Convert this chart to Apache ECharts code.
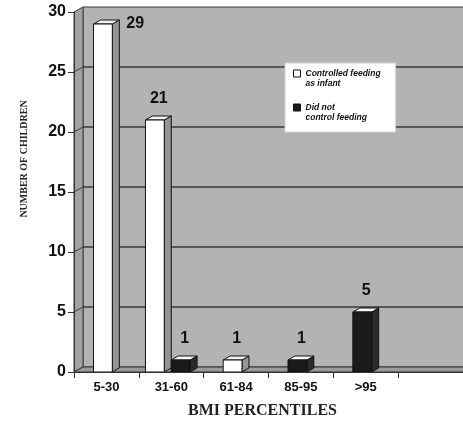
<!DOCTYPE html>
<html>
<head>
<meta charset="utf-8">
<script src="https://cdn.jsdelivr.net/npm/echarts@6/dist/echarts.min.js"></script>
<style>
  html, body { margin: 0; padding: 0; background: #ffffff; }
  #chart { width: 463px; height: 424px; }
</style>
</head>
<body>
<div id="chart"></div>
<script>
// BMI percentile groups (last slot is an empty spacer category)
const categories = ['5-30', '31-60', '61-84', '85-95', '>95', ''];
const controlledFeeding = [29, 21, 1, 0, 0, 0];
const notControlled = [0, 1, 0, 1, 5, 0];
const yTicks = [0, 5, 10, 15, 20, 25, 30];
const seriesNames = ['Controlled feeding as infant', 'Did not control feeding'];
const legendLabels = ['Controlled feeding\nas infant', 'Did not\ncontrol feeding'];

// pseudo-3D depth of the walls and of the columns
const WALL_DX = 9, WALL_DY = 5;
const BAR_DX = 7, BAR_DY = 4;
const BAR_FRACTION = 0.29;

const FRONT = ['#ffffff', '#1a1a1a'];
const SIDE = ['#959595', '#2b2b2b'];
const TOP = ['#f2f2f2', '#fafafa'];
const EDGE = '#111111';

const valueSets = [controlledFeeding, notControlled];

function wallRenderer(params, api) {
  const cs = params.coordSys;
  const L = cs.x, T = cs.y, R = cs.x + cs.width, B = cs.y + cs.height;
  const kids = [];
  kids.push({
    type: 'rect',
    shape: { x: L + WALL_DX, y: T - WALL_DY, width: cs.width, height: cs.height },
    style: { fill: '#b3b3b3', stroke: '#3a3a3a', lineWidth: 1 }
  });
  kids.push({
    type: 'polygon',
    shape: { points: [[L, T], [L + WALL_DX, T - WALL_DY], [L + WALL_DX, B - WALL_DY], [L, B]] },
    style: { fill: '#a2a2a2', stroke: '#3a3a3a', lineWidth: 1 }
  });
  kids.push({
    type: 'polygon',
    shape: { points: [[L, B], [L + WALL_DX, B - WALL_DY], [R + WALL_DX, B - WALL_DY], [R, B]] },
    style: { fill: '#9a9a9a', stroke: '#333333', lineWidth: 1 }
  });
  yTicks.forEach(function (t, k) {
    if (k === 0 || k === yTicks.length - 1) return;
    const y = api.coord([0, t])[1];
    kids.push({
      type: 'line',
      shape: { x1: L + WALL_DX, y1: y - WALL_DY, x2: R + WALL_DX, y2: y - WALL_DY },
      style: { stroke: '#3a3a3a', lineWidth: 1.5 }
    });
    kids.push({
      type: 'line',
      shape: { x1: L, y1: y, x2: L + WALL_DX, y2: y - WALL_DY },
      style: { stroke: '#3a3a3a', lineWidth: 1 }
    });
  });
  return { type: 'group', children: kids };
}

function barRenderer(s) {
  return function (params, api) {
    const i = api.value(0);
    const v = api.value(1);
    if (!v) return null;
    const present = valueSets.map(function (arr) { return arr[i] > 0; });
    const n = present.filter(Boolean).length;
    const slot = (s === 1 && present[0]) ? 1 : 0;
    const band = api.size([1, 0])[0];
    const w = band * BAR_FRACTION;
    const total = n * (w + BAR_DX);
    const base = api.coord([i, 0]);
    const top = api.coord([i, v])[1];
    const bottom = base[1];
    const x0 = base[0] - total / 2 + slot * (w + BAR_DX);
    const cs = params.coordSys;

    const kids = [
      {
        type: 'polygon',
        shape: { points: [[x0 + w, top], [x0 + w + BAR_DX, top - BAR_DY], [x0 + w + BAR_DX, bottom - BAR_DY], [x0 + w, bottom]] },
        style: { fill: SIDE[s], stroke: EDGE, lineWidth: 1 }
      },
      {
        type: 'polygon',
        shape: { points: [[x0, top], [x0 + w, top], [x0 + w + BAR_DX, top - BAR_DY], [x0 + BAR_DX, top - BAR_DY]] },
        style: { fill: TOP[s], stroke: EDGE, lineWidth: 1 }
      },
      {
        type: 'rect',
        shape: { x: x0, y: top, width: w, height: bottom - top },
        style: { fill: FRONT[s], stroke: EDGE, lineWidth: 1 }
      }
    ];

    // value label: above the column, or beside it when there is no room above
    const labelFont = 'bold 16px "Liberation Sans", Arial, sans-serif';
    const aboveY = top - 13;
    if (aboveY - 14 < cs.y) {
      kids.push({
        type: 'text',
        style: { text: String(v), x: x0 + w + BAR_DX + 7, y: top, align: 'left', verticalAlign: 'middle', font: labelFont, fill: '#111' }
      });
    } else {
      kids.push({
        type: 'text',
        style: { text: String(v), x: x0 + w / 2 + 4, y: aboveY, align: 'center', verticalAlign: 'bottom', font: labelFont, fill: '#111' }
      });
    }
    return { type: 'group', children: kids };
  };
}

function toPairs(arr) {
  return arr.map(function (v, i) { return [i, v]; });
}

const legendIcon = 'path://M0,0M0,20M0,1.5L7,1.5L7,8.5L0,8.5Z';

const chart = echarts.init(document.getElementById('chart'), null, { renderer: 'canvas' });
chart.setOption({
  animation: false,
  backgroundColor: '#ffffff',
  grid: { left: 74, top: 12, width: 392, height: 360 },
  legend: {
    orient: 'vertical',
    left: 285,
    top: 63,
    padding: [5, 15, 9, 8],
    itemGap: 13,
    itemWidth: 7,
    itemHeight: 20,
    backgroundColor: '#ffffff',
    borderColor: '#d4d4d4',
    borderWidth: 1,
    selectedMode: false,
    data: [
      { name: seriesNames[0], icon: legendIcon, itemStyle: { color: '#ffffff', borderColor: '#111', borderWidth: 1 } },
      { name: seriesNames[1], icon: legendIcon, itemStyle: { color: '#1a1a1a', borderColor: '#111', borderWidth: 1 } }
    ],
    formatter: function (name) { return legendLabels[seriesNames.indexOf(name)]; },
    textStyle: {
      fontFamily: '"Liberation Sans", Arial, sans-serif',
      fontSize: 8.5,
      fontStyle: 'italic',
      fontWeight: 'bold',
      color: '#111',
      lineHeight: 10
    }
  },
  xAxis: {
    type: 'category',
    data: categories,
    z: 3,
    axisLine: { show: true, lineStyle: { color: '#333', width: 1 } },
    axisTick: { show: true, length: 6, lineStyle: { color: '#333' } },
    axisLabel: {
      margin: 9,
      color: '#111',
      fontFamily: '"Liberation Sans", Arial, sans-serif',
      fontWeight: 'bold',
      fontSize: 13
    },
    splitLine: { show: false },
    name: 'BMI PERCENTILES',
    nameLocation: 'middle',
    nameGap: 31,
    nameTextStyle: {
      fontFamily: '"Liberation Serif", "Times New Roman", serif',
      fontWeight: 'bold',
      fontSize: 16,
      color: '#222',
      padding: [0, 12, 0, 0]
    }
  },
  yAxis: {
    type: 'value',
    min: yTicks[0],
    max: yTicks[yTicks.length - 1],
    interval: yTicks[1] - yTicks[0],
    z: 3,
    axisLine: { show: true, lineStyle: { color: '#333', width: 1 } },
    axisTick: { show: true, length: 6, lineStyle: { color: '#333' } },
    axisLabel: {
      margin: 8,
      color: '#111',
      fontFamily: '"Liberation Sans", Arial, sans-serif',
      fontWeight: 'bold',
      fontSize: 16
    },
    splitLine: { show: false },
    name: 'NUMBER OF CHILDREN',
    nameLocation: 'middle',
    nameRotate: 90,
    nameGap: 45,
    nameTextStyle: {
      fontFamily: '"Liberation Serif", "Times New Roman", serif',
      fontWeight: 'bold',
      fontSize: 10,
      color: '#222',
      padding: [0, 0, 0, 66]
    }
  },
  series: [
    {
      type: 'custom',
      name: 'walls',
      z: 1,
      silent: true,
      renderItem: wallRenderer,
      encode: { x: 0, y: 1 },
      data: [[0, 0]]
    },
    {
      type: 'custom',
      name: seriesNames[0],
      z: 2,
      renderItem: barRenderer(0),
      encode: { x: 0, y: 1 },
      itemStyle: { color: FRONT[0] },
      data: toPairs(controlledFeeding)
    },
    {
      type: 'custom',
      name: seriesNames[1],
      z: 2,
      renderItem: barRenderer(1),
      encode: { x: 0, y: 1 },
      itemStyle: { color: FRONT[1] },
      data: toPairs(notControlled)
    }
  ]
});
</script>
</body>
</html>
